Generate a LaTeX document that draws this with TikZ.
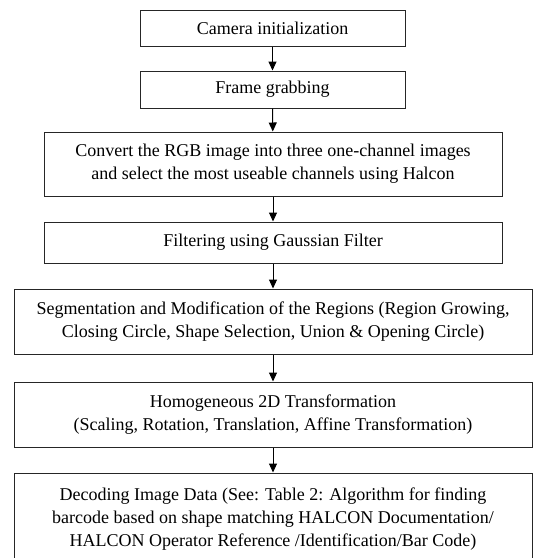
\documentclass[tikz,border=0pt]{standalone}
\usepackage{fontspec}
\setmainfont{Liberation Serif}
\usetikzlibrary{arrows.meta}

\begin{document}
\begin{tikzpicture}[x=1pt,y=1pt]
\tikzstyle{every node}+=[inner sep=0pt]
\tikzstyle{stepbox}=[draw=black!85, line width=1pt, rectangle, align=center, font=\fontsize{18}{23}\selectfont]
\tikzstyle{flow}=[draw=black, line width=1pt, -{Triangle[length=9pt,width=8pt]}]
\clip (0,0) rectangle (533,-558);
\node [stepbox, minimum width=265, minimum height=36] (cam) at (272.5,-28) {Camera initialization};
\node [stepbox, minimum width=265, minimum height=37] (grab) at (272.5,-89.5) {Frame grabbing};
\node [stepbox, minimum width=458, minimum height=64] (conv) at (273,-164) {Convert the RGB image into three one-channel images\\and select the most useable channels using Halcon};
\node [stepbox, minimum width=458, minimum height=41] (filt) at (273,-242.5) {Filtering using Gaussian Filter};
\node [stepbox, minimum width=518, minimum height=65] (segm) at (273,-321.5) {Segmentation and Modification of the Regions (Region Growing,\\Closing Circle, Shape Selection, Union \& Opening Circle)};
\node [stepbox, minimum width=518, minimum height=65] (homo) at (273,-414.5) {Homogeneous 2D Transformation\\(Scaling, Rotation, Translation, Affine Transformation)};
\node [stepbox, minimum width=518, minimum height=92] (deco) at (273,-519) {Decoding Image Data (See: Table 2: Algorithm for finding\\barcode based on shape matching HALCON Documentation/\\HALCON Operator Reference /Identification/Bar Code)};
\draw [flow] (cam) -- (grab);
\draw [flow] (grab) -- (conv);
\draw [flow] (conv) -- (filt);
\draw [flow] (filt) -- (segm);
\draw [flow] (segm) -- (homo);
\draw [flow] (homo) -- (deco);
\end{tikzpicture}
\end{document}
